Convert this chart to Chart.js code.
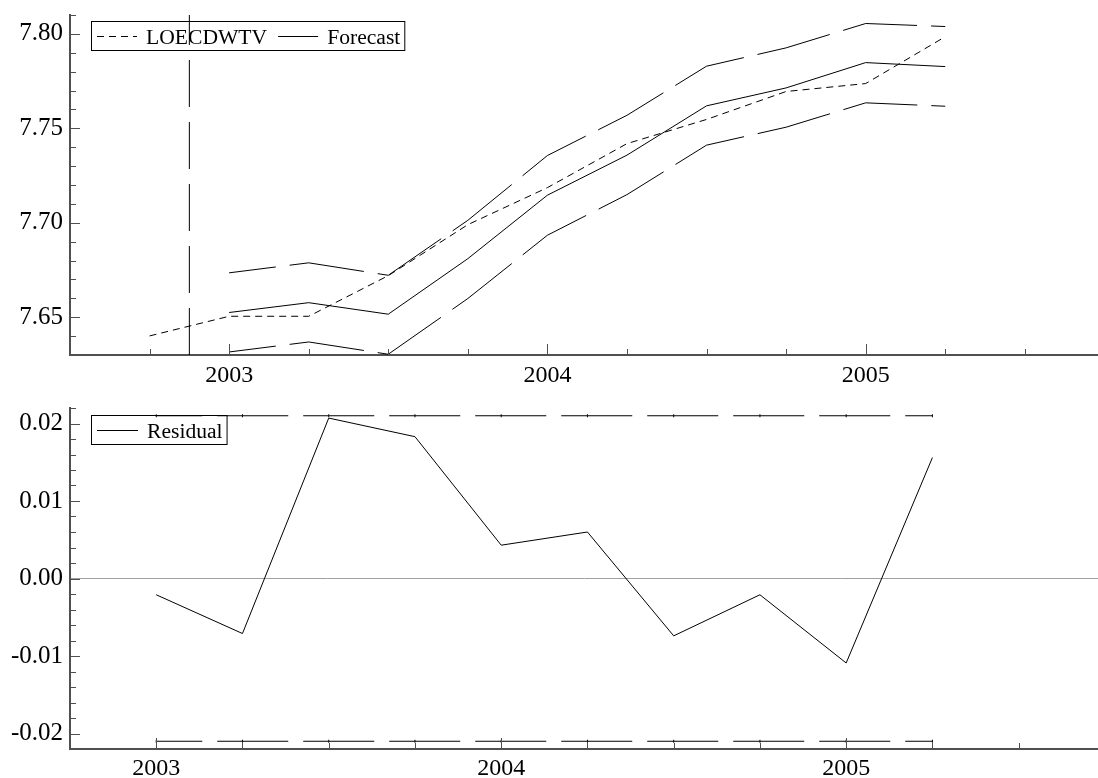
<!DOCTYPE html>
<html>
<head>
<meta charset="utf-8">
<script src="https://cdn.jsdelivr.net/npm/chart.js@4.4.1/dist/chart.umd.min.js"></script>
<style>
html,body{margin:0;padding:0;background:#ffffff;}
#wrap{position:relative;width:1098px;height:778px;overflow:hidden;background:#fff;}
canvas{position:absolute;left:0;}
#topChart{top:0;}
#botChart{top:392px;}
</style>
</head>
<body>
<div id="wrap">
<canvas id="topChart" width="1098" height="392"></canvas>
<canvas id="botChart" width="1098" height="386"></canvas>
</div>
<script>
// ---------------- DATA ----------------
const actualQuarters   = [2002.75, 2003, 2003.25, 2003.5, 2003.75, 2004, 2004.25, 2004.5, 2004.75, 2005, 2005.25];
const loecdwtv         = [7.6401, 7.6505, 7.6505, 7.6720, 7.6990, 7.7186, 7.7419, 7.7547, 7.7695, 7.7737, 7.7985];

const forecastQuarters = [2003, 2003.25, 2003.5, 2003.75, 2004, 2004.25, 2004.5, 2004.75, 2005, 2005.25];
const forecast         = [7.6525, 7.6577, 7.6516, 7.6810, 7.7146, 7.7358, 7.7619, 7.7714, 7.7848, 7.7827];
const forecastUpper    = [7.6735, 7.6788, 7.6722, 7.7013, 7.7356, 7.7569, 7.7829, 7.7926, 7.8055, 7.8039];
const forecastLower    = [7.6316, 7.6369, 7.6304, 7.6599, 7.6934, 7.7149, 7.7411, 7.7506, 7.7635, 7.7617];

const residual         = [-0.0021, -0.0071, 0.0207, 0.0183, 0.0043, 0.0060, -0.0074, -0.0021, -0.0109, 0.0156];
const residualUpper    = [0.021, 0.021, 0.021, 0.021, 0.021, 0.021, 0.021, 0.021, 0.021, 0.021];
const residualLower    = [-0.021, -0.021, -0.021, -0.021, -0.021, -0.021, -0.021, -0.021, -0.021, -0.021];

const forecastStart    = 2002.875;

const topYTicks  = [7.65, 7.70, 7.75, 7.80];
const botYTicks  = [-0.02, -0.01, 0.00, 0.01, 0.02];
const xTickYears = [2003, 2004, 2005];

const topXRange = [2002.5, 2005.73];
const topYRange = [7.63, 7.81];
const botXRange = [2002.75, 2005.73];
const botYRange = [-0.022, 0.022];

// ---------------- STYLE ----------------
const FONT = "'Liberation Serif', 'Times New Roman', Times, serif";
const AXIS_COLOR = '#505050';
Chart.defaults.font.family = FONT;
Chart.defaults.color = '#000';

function pts(xs, ys) { return xs.map((x, i) => ({x: x, y: ys[i]})); }

// inward tick marks drawn with the scales' own pixel mapping
const tickMarks = {
  id: 'tickMarks',
  afterDraw(chart, args, opts) {
    const ctx = chart.ctx;
    const {left, bottom} = chart.chartArea;
    const xs = chart.scales.x, ys = chart.scales.y;
    ctx.save();
    ctx.strokeStyle = AXIS_COLOR;
    ctx.lineWidth = 1;
    const perUnit = opts.xPerUnit;
    for (let i = Math.ceil(xs.min * perUnit - 1e-6); i <= Math.floor(xs.max * perUnit + 1e-6); i++) {
      const v = i / perUnit;
      const px = Math.round(xs.getPixelForValue(v)) + 0.5;
      const len = (i % perUnit === 0) ? 11 : 6;
      ctx.beginPath(); ctx.moveTo(px, bottom); ctx.lineTo(px, bottom - len); ctx.stroke();
    }
    const step = opts.yMinor, ratio = opts.yRatio;
    for (let i = Math.ceil(ys.min / step - 1e-6); i <= Math.floor(ys.max / step + 1e-6); i++) {
      const v = i * step;
      const py = Math.round(ys.getPixelForValue(v)) + 0.5;
      const len = (i % ratio === 0) ? 10 : 6;
      ctx.beginPath(); ctx.moveTo(left, py); ctx.lineTo(left + len, py); ctx.stroke();
    }
    ctx.restore();
  }
};

// boxed legend inside the plot
const boxLegend = {
  id: 'boxLegend',
  afterDatasetsDraw(chart, args, opts) {
    const ctx = chart.ctx;
    ctx.save();
    ctx.font = opts.fontSize + 'px ' + FONT;
    ctx.textBaseline = 'alphabetic';
    ctx.fillStyle = '#000';
    let x = opts.x + 6;
    const lineY = opts.y + opts.lineOffset;
    opts.items.forEach((idx, k) => {
      const ds = chart.data.datasets[idx];
      if (k > 0) x += 11;
      ctx.strokeStyle = '#000';
      ctx.lineWidth = 1;
      ctx.setLineDash(ds.borderDash || []);
      ctx.beginPath(); ctx.moveTo(x, lineY + 0.5); ctx.lineTo(x + opts.sample, lineY + 0.5); ctx.stroke();
      ctx.setLineDash([]);
      x += opts.sample + 9;
      ctx.fillText(ds.label, x, opts.y + opts.baseline);
      x += ctx.measureText(ds.label).width;
    });
    const w = x + 4 - opts.x;
    ctx.strokeStyle = '#000';
    ctx.lineWidth = 1;
    ctx.strokeRect(opts.x + 0.5, opts.y + 0.5, w, opts.h);
    ctx.restore();
  }
};

function yScale(range, ticks, zeroLine) {
  return {
    type: 'linear', min: range[0], max: range[1],
    afterBuildTicks: (s) => { s.ticks = ticks.map(v => ({value: v})); },
    afterFit: (s) => { s.width = 70; s.paddingTop = 0; s.paddingBottom = 0; },
    ticks: { callback: (v) => Number(v).toFixed(2), font: {size: 25, lineHeight: 1}, padding: 7, color: '#000' },
    grid: {
      display: zeroLine, drawTicks: false, lineWidth: 1,
      color: (c) => (c.tick && Math.abs(c.tick.value) < 1e-12) ? '#a0a0a0' : 'rgba(0,0,0,0)'
    },
    border: { display: true, color: AXIS_COLOR, width: 2 }
  };
}
function xScale(range, height, pad) {
  return {
    type: 'linear', min: range[0], max: range[1],
    afterBuildTicks: (s) => { s.ticks = xTickYears.map(v => ({value: v})); },
    afterFit: (s) => { s.height = height; s.paddingLeft = 0; s.paddingRight = 0; },
    ticks: { callback: (v) => String(v), font: {size: 24, lineHeight: 1}, padding: pad, maxRotation: 0, autoSkip: false, color: '#000' },
    grid: { display: false, drawTicks: false },
    border: { display: true, color: AXIS_COLOR, width: 2 }
  };
}

const baseLine = { borderColor: '#000', borderWidth: 1, pointRadius: 0, fill: false, tension: 0 };

// ---------------- TOP PANEL ----------------
new Chart(document.getElementById('topChart'), {
  type: 'line',
  data: {
    datasets: [
      Object.assign({}, baseLine, { label: 'Forecast start', data: [{x: forecastStart, y: topYRange[0]}, {x: forecastStart, y: topYRange[1]}], borderDash: [47, 15] }),
      Object.assign({}, baseLine, { label: 'Upper', data: pts(forecastQuarters, forecastUpper), borderDash: [75, 14], borderDashOffset: 28 }),
      Object.assign({}, baseLine, { label: 'Lower', data: pts(forecastQuarters, forecastLower), borderDash: [75, 14], borderDashOffset: 28 }),
      Object.assign({}, baseLine, { label: 'Forecast', data: pts(forecastQuarters, forecast) }),
      Object.assign({}, baseLine, { label: 'LOECDWTV', data: pts(actualQuarters, loecdwtv), borderDash: [7, 5] })
    ]
  },
  options: {
    responsive: false, animation: false, devicePixelRatio: 1,
    layout: { autoPadding: false, padding: { top: 15, left: 0, right: 0, bottom: 0 } },
    scales: { x: xScale(topXRange, 37, 9), y: yScale(topYRange, topYTicks, false) },
    plugins: {
      legend: { display: false }, tooltip: { enabled: false },
      tickMarks: { xPerUnit: 4, yMinor: 0.01, yRatio: 5 },
      boxLegend: { x: 91, y: 21, h: 29, lineOffset: 15, baseline: 23, sample: 40, fontSize: 21.6, items: [4, 3] }
    }
  },
  plugins: [tickMarks, boxLegend]
});

// ---------------- BOTTOM PANEL ----------------
new Chart(document.getElementById('botChart'), {
  type: 'line',
  data: {
    datasets: [
      Object.assign({}, baseLine, { label: 'Upper', data: pts(forecastQuarters, residualUpper), borderDash: [71, 15], borderDashOffset: 25,
        pointRadius: 1.5, pointStyle: 'line', rotation: 90, pointBorderColor: '#000', pointBorderWidth: 1 }),
      Object.assign({}, baseLine, { label: 'Lower', data: pts(forecastQuarters, residualLower), borderDash: [71, 15], borderDashOffset: 25,
        pointRadius: 1.5, pointStyle: 'line', rotation: 90, pointBorderColor: '#000', pointBorderWidth: 1 }),
      Object.assign({}, baseLine, { label: 'Residual', data: pts(forecastQuarters, residual) })
    ]
  },
  options: {
    responsive: false, animation: false, devicePixelRatio: 1,
    layout: { autoPadding: false, padding: { top: 16, left: 0, right: 0, bottom: 0 } },
    scales: { x: xScale(botXRange, 29, 8), y: yScale(botYRange, botYTicks, true) },
    plugins: {
      legend: { display: false }, tooltip: { enabled: false },
      tickMarks: { xPerUnit: 4, yMinor: 0.002, yRatio: 5 },
      boxLegend: { x: 91, y: 23, h: 29, lineOffset: 15, baseline: 23, sample: 41, fontSize: 21.6, items: [2] }
    }
  },
  plugins: [tickMarks, boxLegend]
});
</script>
</body>
</html>
